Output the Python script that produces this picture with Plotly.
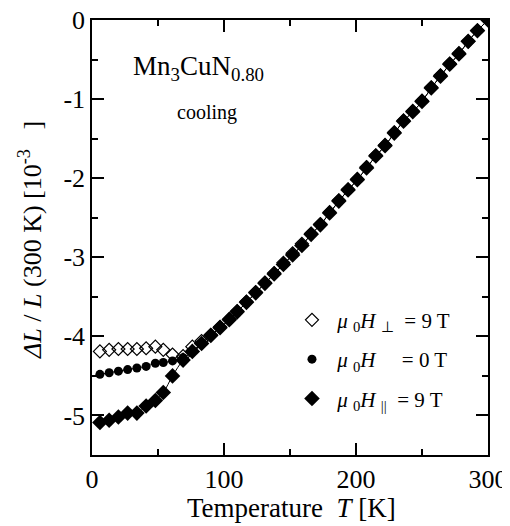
import plotly.graph_objects as go

# Temperatures (K)
T = [6, 13, 20, 27, 34, 41, 48, 54, 61, 69,
     76, 83, 90, 97, 104, 110, 117, 124, 131, 138,
     145, 152, 159, 166, 173, 180, 187, 194, 201, 208,
     215, 222, 229, 236, 243, 250, 257, 264, 271, 278,
     285, 292, 300]

# mu0 H_perp = 9 T (open diamonds)
y_perp = [-4.19, -4.17, -4.16, -4.16, -4.16, -4.15, -4.13, -4.17, -4.23, -4.25,
          -4.13, -4.06, -3.98, -3.88, -3.78, -3.68, -3.56, -3.44, -3.32, -3.20,
          -3.07, -2.95, -2.83, -2.70, -2.58, -2.43, -2.28, -2.14, -2.01, -1.86,
          -1.71, -1.58, -1.42, -1.27, -1.15, -1.02, -0.85, -0.70, -0.55, -0.42,
          -0.27, -0.13, 0.0]

# mu0 H = 0 T (filled circles)
y_zero = [-4.48, -4.46, -4.44, -4.42, -4.40, -4.38, -4.34, -4.33, -4.31, -4.27,
          -4.19, -4.09, -3.99, -3.89, -3.79, -3.69, -3.57, -3.45, -3.33, -3.21,
          -3.09, -2.97, -2.85, -2.71, -2.59, -2.44, -2.29, -2.15, -2.02, -1.87,
          -1.72, -1.59, -1.43, -1.28, -1.16, -1.03, -0.86, -0.71, -0.56, -0.43,
          -0.27, -0.135, 0.0]

# mu0 H_par = 9 T (filled diamonds)
y_par = [-5.09, -5.06, -5.02, -4.97, -4.97, -4.88, -4.81, -4.71, -4.50, -4.30,
         -4.19, -4.09, -3.99, -3.89, -3.79, -3.69, -3.57, -3.45, -3.33, -3.21,
         -3.09, -2.97, -2.85, -2.71, -2.59, -2.44, -2.29, -2.15, -2.02, -1.87,
         -1.72, -1.59, -1.43, -1.28, -1.16, -1.03, -0.86, -0.71, -0.56, -0.43,
         -0.27, -0.135, 0.0]

x_ticks = [0, 100, 200, 300]
x_ticklabels = ["0", "100", "200", "300"]
y_ticks = [0, -1, -2, -3, -4, -5]
y_ticklabels = ["0", "-1", "-2", "-3", "-4", "-5"]

FONT = "Liberation Serif, Times New Roman, serif"
SP = "\u00a0"

fig = go.Figure()

# thin connecting curves (no legend entries)
fig.add_trace(go.Scatter(x=T, y=y_zero, mode="lines", showlegend=False, hoverinfo="skip",
                         line=dict(color="black", width=1, shape="spline")))
fig.add_trace(go.Scatter(x=T, y=y_par, mode="lines", showlegend=False, hoverinfo="skip",
                         line=dict(color="black", width=1, shape="spline")))

fig.add_trace(go.Scatter(
    x=T, y=y_perp, mode="markers",
    name=SP + "<i>μ</i> <sub>0</sub><i>H</i> <sub>⊥</sub>" + SP + " = 9 T",
    marker=dict(symbol="diamond-open", size=10, color="black", line=dict(width=1.2, color="black")),
    legendgroup="a",
))
fig.add_trace(go.Scatter(
    x=T, y=y_zero, mode="markers",
    name=SP + "<i>μ</i> <sub>0</sub><i>H</i>" + SP * 4 + " = 0 T",
    marker=dict(symbol="circle", size=9, color="black"),
    legendgroup="b",
))
fig.add_trace(go.Scatter(
    x=T, y=y_par, mode="markers",
    name=SP + "<i>μ</i> <sub>0</sub><i>H</i> <sub>||</sub>" + SP + " = 9 T",
    marker=dict(symbol="diamond", size=12, color="black"),
    legendgroup="c",
))

axis_common = dict(
    showline=True, linecolor="black", linewidth=1.5, mirror="ticks",
    ticks="inside", tickcolor="black", tickwidth=1.5, ticklen=12,
    showgrid=False, zeroline=False, automargin=False,
    ticklabeloverflow="allow",
    tickfont=dict(family=FONT, size=26, color="black"),
)

fig.update_xaxes(
    range=[0, 300], tickvals=x_ticks, ticktext=x_ticklabels,
    minor=dict(dtick=50, tick0=0, ticks="inside", ticklen=6, tickwidth=1.5, tickcolor="black"),
    **axis_common,
)
fig.update_yaxes(
    range=[-5.5, 0], tickvals=y_ticks, ticktext=y_ticklabels,
    minor=dict(dtick=0.5, tick0=0, ticks="inside", ticklen=6, tickwidth=1.5, tickcolor="black"),
    **axis_common,
)

# axis titles
fig.add_annotation(
    xref="paper", yref="paper", x=0.505, y=-0.122, xanchor="center", yanchor="middle",
    text="Temperature" + SP + " <i>T</i> [K]", showarrow=False,
    font=dict(family=FONT, size=27, color="black"),
)
fig.add_annotation(
    xref="paper", yref="paper", x=-0.157, y=0.494, xanchor="center", yanchor="middle",
    textangle=-90,
    text="<i>ΔL</i> / <i>L</i> (300 K) [10<sup>-3</sup>" + SP * 3 + "]", showarrow=False,
    font=dict(family=FONT, size=26, color="black"),
)

fig.add_annotation(
    xref="paper", yref="paper", x=0.27, y=0.889, xanchor="center", yanchor="middle",
    text="Mn<sub>3</sub>CuN<sub>0.80</sub>", showarrow=False,
    font=dict(family=FONT, size=27, color="black"),
)
fig.add_annotation(
    xref="paper", yref="paper", x=0.29, y=0.788, xanchor="center", yanchor="middle",
    text="cooling", showarrow=False,
    font=dict(family=FONT, size=20, color="black"),
)

# the page adds an 8 px body margin, so the figure is 8 px smaller than the window
fig.update_layout(
    width=502, height=518,
    margin=dict(l=84, r=22, t=12, b=71),
    plot_bgcolor="white", paper_bgcolor="white",
    showlegend=True,
    legend=dict(
        x=0.505, y=0.357, xanchor="left", yanchor="top",
        bgcolor="rgba(0,0,0,0)", borderwidth=0,
        font=dict(family=FONT, size=21, color="black"),
        traceorder="grouped", tracegroupgap=9, itemsizing="trace",
    ),
)

fig.write_html("out.html")
